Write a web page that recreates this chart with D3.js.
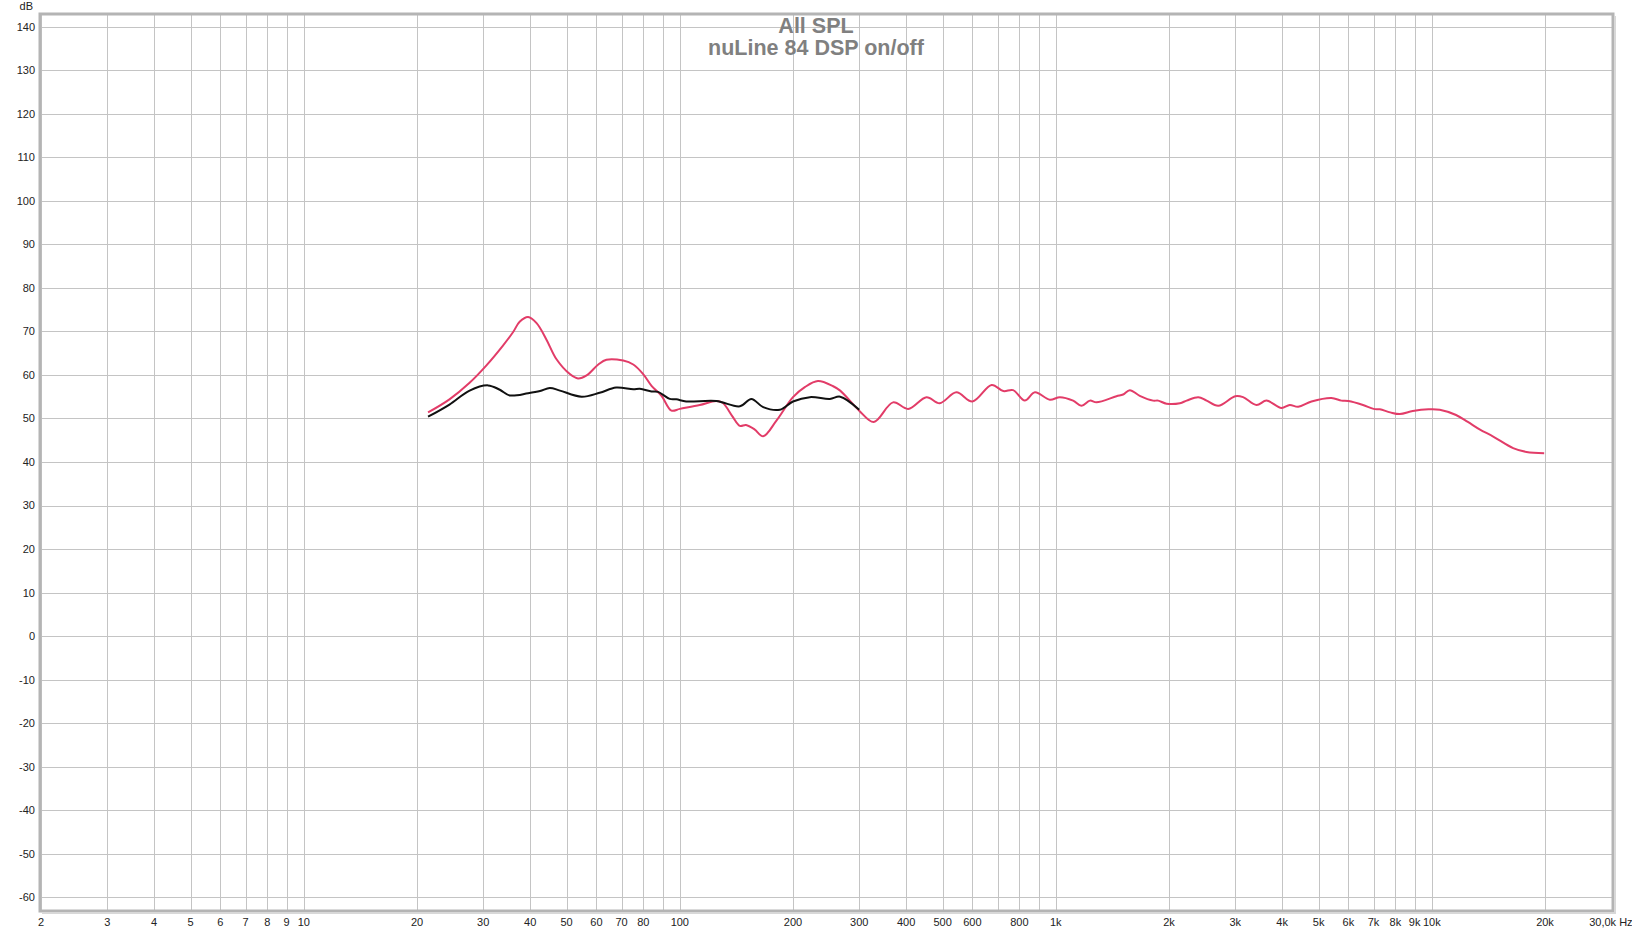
<!DOCTYPE html>
<html><head><meta charset="utf-8">
<script src="https://cdn.jsdelivr.net/npm/d3@7"></script>
<style>
html,body{margin:0;padding:0;background:#fff;}
svg{display:block;font-family:"Liberation Sans",Arial,sans-serif;}
</style></head>
<body>
<svg id="c" width="1632" height="932"></svg>
<script>
// ---- data ----
const titleLines = ["All SPL", "nuLine 84 DSP on/off"];
const yTicks = [140,130,120,110,100,90,80,70,60,50,40,30,20,10,0,-10,-20,-30,-40,-50,-60];
const xGrid = [2,3,4,5,6,7,8,9,10,20,30,40,50,60,70,80,90,100,200,300,400,500,600,700,800,900,
               1000,2000,3000,4000,5000,6000,7000,8000,9000,10000,20000];
const xLabelFreqs = [2,3,4,5,6,7,8,9,10,20,30,40,50,60,70,80,100,200,300,400,500,600,800,
                     1000,2000,3000,4000,5000,6000,7000,8000,9000,10000,20000];
const xLabelTexts = ["2","3","4","5","6","7","8","9","10","20","30","40","50","60","70","80","100","200","300","400","500","600","800",
                     "1k","2k","3k","4k","5k","6k","7k","8k","9k","10k","20k"];
const lastLabel = "30,0k Hz";

// pink series (DSP off)
const pinkFreq = [21.4,24.4,27.6,30.6,33.9,36,37.5,39.5,41.6,44.2,47,51,53.6,56.5,60.7,63.8,70.7,75.2,79.9,84.1,89.4,95,100,113,125,130,138,144.5,150,158,166.6,180.7,200,215,233,255.8,267,300,
  328,369,405,453,491,544,600,675,725,770,827,880,964,1025,1112,1170,1232,1283,1450,1510,1573,1672,1815,1872,1970,2138,2228,2393,2518,2705,3000,3148,3418,
  3635,3981,4188,4412,4786,5408,5750,6000,6561,7000,7273,7750,8220,8900,9800,10500,11600,12470,13400,14600,16450,17860,19900];
const pinkDb = [51.4,54.4,58.2,62.2,66.8,69.8,72.2,73.3,71.9,68.1,63.6,60.2,59.2,59.9,62.4,63.5,63.3,62.4,60.2,57.5,55.2,51.8,52.2,53.1,54.0,53.6,50.5,48.3,48.5,47.5,45.9,49.5,54.9,57.2,58.6,57.4,56.4,51.8,
  49.2,53.7,52.2,54.9,53.5,56.0,53.9,57.7,56.3,56.5,54.1,56.0,54.3,54.9,54.1,52.9,54.1,53.7,55.1,55.5,56.5,55.2,54.1,54.1,53.4,53.5,54.1,54.9,54.1,52.9,55.1,54.9,53.1,
  54.1,52.4,53.1,52.7,53.9,54.7,54.1,54.0,53.1,52.2,52.1,51.4,51.0,51.7,52.1,52.0,50.8,49.2,47.5,45.8,43.2,42.3,42.0];

// black series (DSP on)
const blackFreq = [21.4,24.4,27.6,30.9,33.2,35.3,39.5,42.5,45.1,48,54.8,61.2,67.7,75.2,78.3,84.1,87.5,94,97.9,104,125,144.5,155,166.6,184.5,200,221.8,250.6,267,300];
const blackDb = [50.4,53.2,56.4,57.6,56.6,55.3,55.8,56.3,57.0,56.4,55.0,55.9,57.1,56.7,56.8,56.2,56.1,54.5,54.4,53.9,54.0,52.8,54.5,52.6,52.0,53.9,54.9,54.5,55.0,52.0];

// ---- drawing ----
const svg = d3.select("#c");
const x = d3.scaleLog().domain([2, 30000]).range([41, 41 + 376*Math.log10(15000)]);
const y = d3.scaleLinear().domain([-60, 140]).range([897.3, 26.7]);

const frame = {x0: 40, y0: 14, x1: 1613, y1: 911};

// grid
const g = svg.append("g");
g.selectAll("line.v").data(xGrid).enter().append("line")
  .attr("x1", d => Math.round(x(d))+0.5).attr("x2", d => Math.round(x(d))+0.5)
  .attr("y1", frame.y0).attr("y2", frame.y1)
  .attr("stroke", "#c4c4c4").attr("stroke-width", 1);
g.selectAll("line.h").data(yTicks).enter().append("line")
  .attr("x1", frame.x0).attr("x2", frame.x1)
  .attr("y1", d => Math.round(y(d))+0.5).attr("y2", d => Math.round(y(d))+0.5)
  .attr("stroke", "#c4c4c4").attr("stroke-width", 1);

// frame
svg.append("rect").attr("x", frame.x0).attr("y", frame.y0)
  .attr("width", frame.x1-frame.x0).attr("height", frame.y1-frame.y0)
  .attr("fill", "none").attr("stroke", "#b4b4b4").attr("stroke-width", 3);
svg.append("line").attr("x1", frame.x1+2).attr("x2", frame.x1+2).attr("y1", frame.y0+2).attr("y2", frame.y1+2)
  .attr("stroke", "#d8d8d8").attr("stroke-width", 2);
svg.append("line").attr("x1", frame.x0+2).attr("x2", frame.x1+3).attr("y1", frame.y1+2).attr("y2", frame.y1+2)
  .attr("stroke", "#d8d8d8").attr("stroke-width", 2);

// y labels
svg.selectAll("text.yl").data(yTicks).enter().append("text")
  .attr("x", 35).attr("y", d => y(d)).attr("dy", "0.36em")
  .attr("text-anchor", "end").attr("font-size", 11).attr("fill", "#222")
  .text(d => d);
svg.append("text").attr("x", 33).attr("y", 9.5).attr("text-anchor", "end")
  .attr("font-size", 11).attr("fill", "#222").text("dB");

// x labels
svg.selectAll("text.xl").data(xLabelFreqs).enter().append("text")
  .attr("x", d => x(d)).attr("y", 926).attr("text-anchor", "middle")
  .attr("font-size", 11).attr("fill", "#222")
  .text((d,i) => xLabelTexts[i]);
svg.append("text").attr("x", x(30000)-22).attr("y", 926).attr("text-anchor", "start")
  .attr("font-size", 11).attr("fill", "#222").text(lastLabel);

// title
svg.selectAll("text.t").data(titleLines).enter().append("text")
  .attr("x", 816).attr("y", (d,i) => 33 + i*22).attr("text-anchor", "middle")
  .attr("font-size", 21.5).attr("font-weight", "bold").attr("fill", "#808080")
  .text(d => d);

// curves
const line = d3.line().x(d => x(d[0])).y(d => y(d[1])).curve(d3.curveCatmullRom.alpha(0.5));
const pink = pinkFreq.map((f,i) => [f, pinkDb[i]]);
const black = blackFreq.map((f,i) => [f, blackDb[i]]);
svg.append("path").attr("d", line(pink)).attr("fill", "none")
  .attr("stroke", "#e23c68").attr("stroke-width", 2).attr("stroke-linejoin", "round");
svg.append("path").attr("d", line(black)).attr("fill", "none")
  .attr("stroke", "#111").attr("stroke-width", 2).attr("stroke-linejoin", "round");
</script>
</body></html>
